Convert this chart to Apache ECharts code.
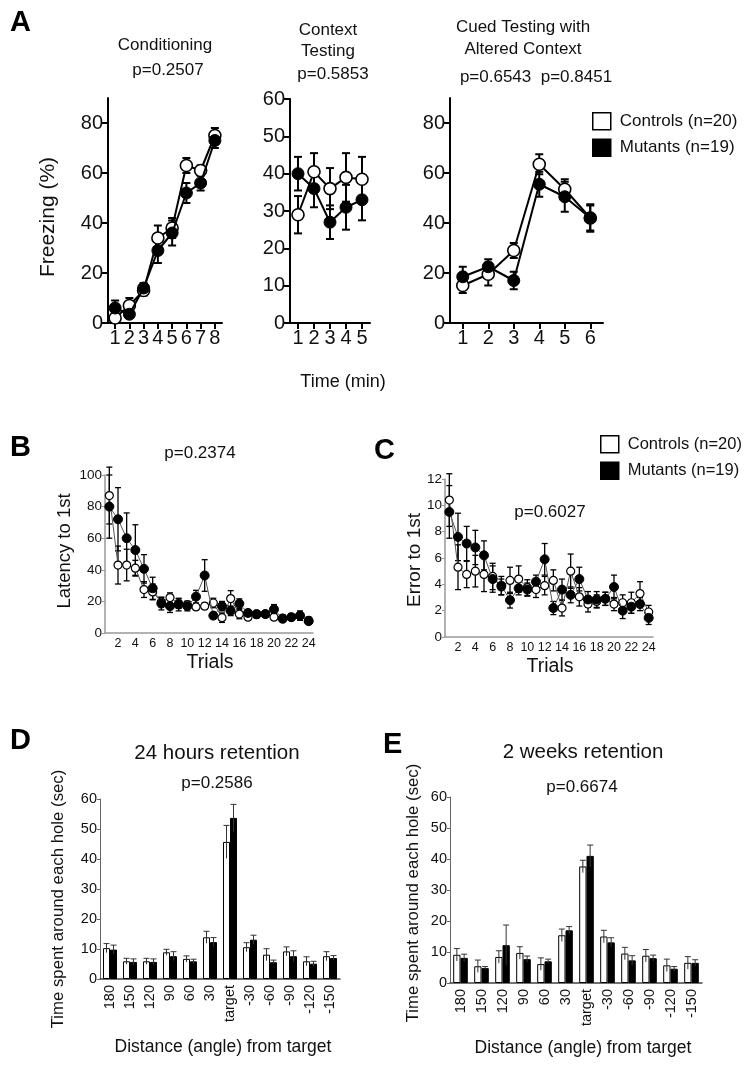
<!DOCTYPE html>
<html>
<head>
<meta charset="utf-8">
<script src="https://cdn.jsdelivr.net/npm/echarts@6/dist/echarts.min.js"></script>
<style>html,body{margin:0;padding:0;background:#fff}#chart{width:756px;height:1071px}</style>
</head>
<body>
<div id="chart"></div>
<script>
// ---------- DATA ----------
const CTRL = 'Controls (n=20)';
const MUT = 'Mutants (n=19)';

// A: Conditioning (min 1-8)
const condMin = ['1','2','3','4','5','6','7','8'];
const condCtrl = [2, 7, 13, 34, 38, 63, 61, 75];
const condCtrlErr = [2, 3, 2, 5, 4, 3, 2, 3];
const condMut = [6, 3.5, 14, 29, 36, 52, 56, 73];
const condMutErr = [3, 1, 2, 5, 5, 4, 3, 3];

// A: Context testing (min 1-5)
const ctxMin = ['1','2','3','4','5'];
const ctxCtrl = [29, 40.5, 36, 39, 38.5];
const ctxCtrlErr = [5, 5, 5.5, 6.5, 6];
const ctxMut = [40, 36, 27, 31, 33];
const ctxMutErr = [4.5, 5, 4.5, 6, 5.5];

// A: Cued testing with altered context (min 1-6)
const cueMin = ['1','2','3','4','5','6'];
const cueCtrl = [15, 19.5, 29, 63.5, 53.5, 42];
const cueCtrlErr = [3, 4.5, 3, 4, 4, 5];
const cueMut = [18.5, 22.5, 17, 55.5, 50.5, 42];
const cueMutErr = [4, 3, 3.5, 5, 6, 5.5];

// B / C: trials 1-24
const trials = ['1','2','3','4','5','6','7','8','9','10','11','12','13','14','15','16','17','18','19','20','21','22','23','24'];
const latCtrl = [87, 43, 43, 41, 27.5, 26, 19.6, 22.4, 18.6, 18, 16.5, 17, 19, 9.7, 21.8, 12, 10, 11.6, 12, 10, 9.5, 10, 11, 8];
const latCtrlErr = [18, 12, 10, 5, 5, 5, 3, 3, 3, 2, 2, 2, 3, 3, 5, 3, 2, 2, 2, 2, 2, 2, 3, 2];
const latMut = [80, 72, 60, 52.5, 40.6, 28.3, 18.6, 17, 18, 17, 23, 36.4, 11, 17, 14, 18.6, 12.7, 12, 12, 15, 9, 10, 11, 7.5];
const latMutErr = [20, 20, 16, 16, 9, 7, 4, 4, 4, 3, 4, 10, 2, 3, 3, 3, 2, 2, 2, 3, 2, 2, 2, 2];

const errCtrl = [10.4, 5.3, 4.75, 5, 4.75, 4.6, 3.8, 4.3, 4.4, 3.75, 3.6, 3.9, 4.3, 2.2, 5, 3.05, 2.5, 2.7, 2.9, 2.5, 2.6, 2.6, 3.3, 1.9];
const errCtrlErr = [2, 1.7, 1, 1.2, 1.3, 1, 0.6, 1, 1, 0.6, 0.6, 0.7, 0.8, 0.6, 1.3, 0.7, 0.6, 0.5, 0.5, 0.5, 0.6, 0.8, 0.9, 0.5];
const errMut = [9.5, 7.6, 7.1, 6.8, 6.2, 4.4, 3.9, 2.8, 3.7, 3.6, 4.2, 5.9, 2.2, 3.6, 3.2, 4.4, 2.85, 2.85, 2.9, 3.8, 2, 2.3, 2.5, 1.45];
const errMutErr = [2, 1.8, 1.3, 1.3, 1.1, 1, 0.7, 0.6, 0.5, 0.5, 0.5, 1.2, 0.5, 0.8, 0.6, 0.9, 0.6, 0.6, 0.5, 0.9, 0.6, 0.5, 0.5, 0.5];

// D / E: distance (angle) from target
const angles = ['180','150','120','90','60','30','target','-30','-60','-90','-120','-150'];
const h24Ctrl = [10.3, 5.9, 5.9, 8.9, 6.7, 13.9, 45.7, 10.6, 8.1, 9.2, 5.9, 7.6];
const h24CtrlErr = [1.5, 1, 1, 1, 1, 2, 5.5, 1.5, 2, 1.5, 1.5, 1.5];
const h24Mut = [9.8, 5.7, 5.7, 7.6, 5.9, 12.3, 53.7, 13.1, 5.6, 7.6, 5.1, 7];
const h24MutErr = [1.5, 1, 1, 1.5, 0.7, 1.5, 4.5, 1.5, 0.7, 1.8, 0.8, 0.8];
const w2Ctrl = [9.1, 5.4, 8.4, 9.7, 6.1, 15.4, 37.6, 15, 9.5, 8.8, 5.7, 6.5];
const w2CtrlErr = [2, 2, 2, 2, 2, 2, 2, 2, 2, 2, 2, 2];
const w2Mut = [8.1, 4.8, 12.2, 7.7, 7, 17, 41, 13.1, 7.3, 8, 4.6, 6.5];
const w2MutErr = [1.2, 0.5, 6.5, 1, 0.7, 1.2, 3.5, 1.5, 1.5, 1, 0.7, 1];

// ---------- BUILD ----------
const FF = '"Liberation Sans", Arial, Helvetica, sans-serif';
const chart = echarts.init(document.getElementById('chart'), null, {renderer: 'canvas'});

function errData(vals, errs) { return vals.map((v, i) => [i, v - errs[i], v + errs[i]]); }
function errRender(capW, lw, offset, upOnly, color) {
  return function (params, api) {
    const x = api.value(0), lo = api.value(1), hi = api.value(2);
    const pLo = api.coord([x, lo]), pHi = api.coord([x, hi]);
    const cx = pLo[0] + offset;
    const st = {stroke: color || '#000', lineWidth: lw};
    const ch = [
      {type: 'line', shape: {x1: cx, y1: pLo[1], x2: cx, y2: pHi[1]}, style: st},
      {type: 'line', shape: {x1: cx - capW / 2, y1: pHi[1], x2: cx + capW / 2, y2: pHi[1]}, style: st}
    ];
    if (!upOnly) ch.push({type: 'line', shape: {x1: cx - capW / 2, y1: pLo[1], x2: cx + capW / 2, y2: pLo[1]}, style: st});
    return {type: 'group', children: ch};
  };
}

const grids = [
  {left: 108, top: 98, width: 114, height: 225},
  {left: 290, top: 99, width: 80, height: 224},
  {left: 450, top: 98, width: 153, height: 225},
  {left: 105, top: 475, width: 208, height: 158},
  {left: 445, top: 479, width: 208, height: 158},
  {left: 100, top: 799, width: 240, height: 180},
  {left: 450, top: 797, width: 252, height: 186}
];

const aAxisLine = {show: true, lineStyle: {color: '#000', width: 2}};
const aTick = {show: true, length: 6, alignWithLabel: true, interval: 0, lineStyle: {color: '#000', width: 2}};
const aLabel = {fontSize: 20, color: '#111', fontFamily: FF, margin: 6};

function aX(idx, cats) {
  return {gridIndex: idx, type: 'category', data: cats, boundaryGap: true,
    axisLine: aAxisLine, axisTick: aTick, axisLabel: Object.assign({}, aLabel, {margin: 5, interval: 0}), splitLine: {show: false}};
}
function aY(idx, max, ticks) {
  return {gridIndex: idx, type: 'value', min: 0, max: max,
    axisLine: aAxisLine,
    axisTick: {show: true, length: 6, lineStyle: {color: '#000', width: 2}, customValues: ticks},
    axisLabel: Object.assign({}, aLabel, {margin: 5, customValues: ticks}),
    splitLine: {show: false}};
}
const bcAxisLine = {show: true, lineStyle: {color: '#999', width: 1.5}};
function bcX(idx) {
  return {gridIndex: idx, type: 'category', data: trials, boundaryGap: true,
    axisLine: bcAxisLine, axisTick: {show: false},
    axisLabel: {fontSize: 12.5, color: '#111', fontFamily: FF, margin: 4, interval: (i) => i % 2 === 1},
    splitLine: {show: false}};
}
function bcY(idx, max, interval) {
  return {gridIndex: idx, type: 'value', min: 0, max: max, interval: interval,
    axisLine: bcAxisLine, axisTick: {show: true, length: 3, lineStyle: {color: '#999'}},
    axisLabel: {fontSize: 13.5, color: '#111', fontFamily: FF, margin: 3},
    splitLine: {show: false}};
}
function deX(idx) {
  return {gridIndex: idx, type: 'category', data: angles,
    axisLine: {show: true, lineStyle: {color: '#444', width: 1.5}}, axisTick: {show: false},
    axisLabel: {rotate: 90, fontSize: 14.5, color: '#111', fontFamily: FF, margin: 6, interval: 0},
    splitLine: {show: false}};
}
function deY(idx) {
  return {gridIndex: idx, type: 'value', min: 0, max: 60, interval: 10,
    axisLine: {show: true, lineStyle: {color: '#666', width: 1}}, axisTick: {show: true, length: 3, lineStyle: {color: '#666'}},
    axisLabel: {fontSize: 14.5, color: '#111', fontFamily: FF, margin: 3},
    splitLine: {show: false}};
}

const series = [];
function addLinePanel(idx, ctrl, ctrlErr, mut, mutErr, big) {
  const sz = big ? 12 : 8;
  const lineCol = big ? '#000' : '#555';
  const lineW = big ? 2 : 1;
  const capW = big ? 8 : 6;
  const elw = big ? 2 : 1.3;
  series.push({type: 'custom', name: 'errC' + idx, xAxisIndex: idx, yAxisIndex: idx, z: 1,
    data: errData(ctrl, ctrlErr), renderItem: errRender(capW, elw, 0, false), encode: {x: 0, y: [1, 2]}, silent: true});
  series.push({type: 'custom', name: 'errM' + idx, xAxisIndex: idx, yAxisIndex: idx, z: 1,
    data: errData(mut, mutErr), renderItem: errRender(capW, elw, 0, false), encode: {x: 0, y: [1, 2]}, silent: true});
  series.push({type: 'line', name: CTRL, xAxisIndex: idx, yAxisIndex: idx, z: 3, data: ctrl,
    symbol: 'circle', symbolSize: sz, showAllSymbol: true,
    lineStyle: {color: lineCol, width: lineW}, itemStyle: {color: '#fff', borderColor: '#000', borderWidth: big ? 1.6 : 1.2},
    emphasis: {disabled: true}, animation: false});
  series.push({type: 'line', name: MUT, xAxisIndex: idx, yAxisIndex: idx, z: 4, data: mut,
    symbol: 'circle', symbolSize: sz + (big ? 0 : 1), showAllSymbol: true,
    lineStyle: {color: lineCol, width: lineW}, itemStyle: {color: '#000', borderColor: '#000', borderWidth: 1},
    emphasis: {disabled: true}, animation: false});
}
function addBarPanel(idx, ctrl, ctrlErr, mut, mutErr, bw) {
  series.push({type: 'bar', name: CTRL, xAxisIndex: idx, yAxisIndex: idx, data: ctrl, barWidth: bw, barGap: '0%',
    itemStyle: {color: '#fff', borderColor: '#000', borderWidth: 1}, emphasis: {disabled: true}, animation: false});
  series.push({type: 'bar', name: MUT, xAxisIndex: idx, yAxisIndex: idx, data: mut, barWidth: bw, barGap: '0%',
    itemStyle: {color: '#000', borderColor: '#000', borderWidth: 1}, emphasis: {disabled: true}, animation: false});
  series.push({type: 'custom', name: 'errC' + idx, xAxisIndex: idx, yAxisIndex: idx, z: 5,
    data: errData(ctrl, ctrlErr), renderItem: errRender(6, 1, -bw / 2, true, '#333'), encode: {x: 0, y: [1, 2]}, silent: true});
  series.push({type: 'custom', name: 'errM' + idx, xAxisIndex: idx, yAxisIndex: idx, z: 5,
    data: errData(mut, mutErr), renderItem: errRender(6, 1, bw / 2, true, '#333'), encode: {x: 0, y: [1, 2]}, silent: true});
}

addLinePanel(0, condCtrl, condCtrlErr, condMut, condMutErr, true);
addLinePanel(1, ctxCtrl, ctxCtrlErr, ctxMut, ctxMutErr, true);
addLinePanel(2, cueCtrl, cueCtrlErr, cueMut, cueMutErr, true);
addLinePanel(3, latCtrl, latCtrlErr, latMut, latMutErr, false);
addLinePanel(4, errCtrl, errCtrlErr, errMut, errMutErr, false);
addBarPanel(5, h24Ctrl, h24CtrlErr, h24Mut, h24MutErr, 7);
addBarPanel(6, w2Ctrl, w2CtrlErr, w2Mut, w2MutErr, 7.3);

function T(x, y, text, size, opt) {
  opt = opt || {};
  return {type: 'text', x: x, y: y, rotation: opt.rot || 0, silent: true,
    style: {text: text, fontSize: size, fontFamily: FF, fontWeight: opt.bold ? 'bold' : 'normal',
      fill: opt.color || '#111', align: opt.align || 'center', verticalAlign: 'middle'}};
}
const R = Math.PI / 2;
const graphics = [
  T(10, 23, 'A', 29, {bold: true, align: 'left', color: '#000'}),
  T(165, 45, 'Conditioning', 17),
  T(168, 70, 'p=0.2507', 17),
  T(48, 217, 'Freezing (%)', 21, {rot: R}),
  T(328, 30, 'Context', 17),
  T(328, 51, 'Testing', 17),
  T(333, 74, 'p=0.5853', 17),
  T(523, 27, 'Cued Testing with', 17),
  T(523, 49, 'Altered Context', 17),
  T(536, 77, 'p=0.6543  p=0.8451', 17),
  T(343, 382, 'Time (min)', 18),

  T(10, 448, 'B', 29, {bold: true, align: 'left', color: '#000'}),
  T(200, 453, 'p=0.2374', 17),
  T(65, 551, 'Latency to 1st', 18.5, {rot: R}),
  T(210, 663, 'Trials', 19.5),

  T(374, 451, 'C', 29, {bold: true, align: 'left', color: '#000'}),
  T(550, 512, 'p=0.6027', 17),
  T(415, 560, 'Error to 1st', 19, {rot: R}),
  T(550, 667, 'Trials', 19.5),

  T(10, 741, 'D', 29, {bold: true, align: 'left', color: '#000'}),
  T(217, 753, '24 hours retention', 20.5),
  T(217, 783, 'p=0.2586', 17),
  T(58, 899, 'Time spent around each hole (sec)', 16.8, {rot: R}),
  T(223, 1047, 'Distance (angle) from target', 17.5),

  T(383, 745, 'E', 29, {bold: true, align: 'left', color: '#000'}),
  T(583, 752, '2 weeks retention', 20.5),
  T(582, 787, 'p=0.6674', 17),
  T(413, 893, 'Time spent around each hole (sec)', 16.8, {rot: R}),
  T(583, 1048, 'Distance (angle) from target', 17.5)
];

function legendOf(left, top, fs) {
  return {orient: 'vertical', left: left, top: top, itemWidth: 18, itemHeight: 17, itemGap: 8, selectedMode: false,
    padding: 0,
    textStyle: {fontSize: fs, fontFamily: FF, color: '#111', padding: [0, 0, 0, 4]},
    data: [
      {name: CTRL, icon: 'rect', itemStyle: {color: '#fff', borderColor: '#000', borderWidth: 1.5}},
      {name: MUT, icon: 'rect', itemStyle: {color: '#000', borderColor: '#000', borderWidth: 1.5}}
    ]};
}

chart.setOption({
  backgroundColor: '#fff',
  animation: false,
  textStyle: {fontFamily: FF},
  grid: grids,
  xAxis: [aX(0, condMin), aX(1, ctxMin), aX(2, cueMin), bcX(3), bcX(4), deX(5), deX(6)],
  yAxis: [aY(0, 90, [0, 20, 40, 60, 80]), aY(1, 60, [0, 10, 20, 30, 40, 50, 60]), aY(2, 90, [0, 20, 40, 60, 80]),
    bcY(3, 100, 20), bcY(4, 12, 2), deY(5), deY(6)],
  legend: [legendOf(592, 112, 17), legendOf(600, 435, 16.5)],
  series: series,
  graphic: graphics
});
</script>
</body>
</html>
